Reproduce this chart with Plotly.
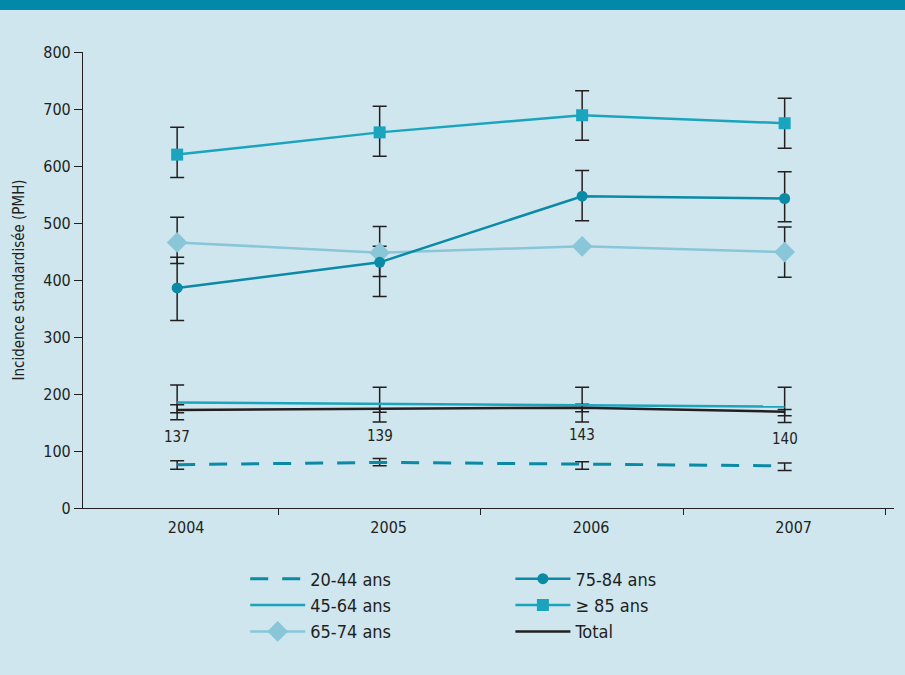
import plotly.graph_objects as go

years = ["2004", "2005", "2006", "2007"]

v_20_44 = [76, 80, 77, 74]
v_20_44_hi = [83, 87, 81, 79]
v_20_44_lo = [68, 74, 68, 66]

v_45_64 = [185, 183, 181, 178]
v_45_64_hi = [216, 212, 212, 212]
v_45_64_lo = [155, 151, 151, 150]

v_65_74 = [466, 448, 459, 449]
v_65_74_hi = [510, 494, None, 493]
v_65_74_lo = [429, 406, None, 405]

v_75_84 = [386, 431, 547, 543]
v_75_84_hi = [440, 459, 592, 590]
v_75_84_lo = [329, 371, 504, 502]

v_85 = [620, 659, 689, 675]
v_85_hi = [668, 705, 732, 719]
v_85_lo = [580, 617, 645, 631]

v_total = [172, 174, 176, 169]
v_total_hi = [181, 182, 182, 173]
v_total_lo = [167, 168, 169, 162]

total_labels = ["137", "139", "143", "140"]

C_DARK = "#0b8aa6"
C_MID = "#1ba4be"
C_LIGHT = "#88c6d8"
C_BLACK = "#231f20"
BG = "#cfe6ee"
FONT = "DejaVu Sans Condensed, Liberation Sans Narrow, sans-serif"

fig = go.Figure()


def err_trace(vals, hi, lo):
    xs, ys, up, dn = [], [], [], []
    for x, v, h, l in zip(years, vals, hi, lo):
        if h is None:
            continue
        xs.append(x)
        ys.append(v)
        up.append(h - v)
        dn.append(v - l)
    return go.Scatter(
        x=xs, y=ys, mode="markers", marker=dict(size=0.1, opacity=0),
        showlegend=False, hoverinfo="skip",
        error_y=dict(type="data", array=up, arrayminus=dn, symmetric=False,
                     color=C_BLACK, thickness=1.5, width=7),
    )


for vals, hi, lo in [
    (v_20_44, v_20_44_hi, v_20_44_lo),
    (v_45_64, v_45_64_hi, v_45_64_lo),
    (v_65_74, v_65_74_hi, v_65_74_lo),
    (v_75_84, v_75_84_hi, v_75_84_lo),
    (v_85, v_85_hi, v_85_lo),
    (v_total, v_total_hi, v_total_lo),
]:
    fig.add_trace(err_trace(vals, hi, lo))

fig.add_trace(go.Scatter(x=years, y=v_20_44, name="20-44 ans", mode="lines",
                         line=dict(color=C_DARK, width=3, dash="18px,14px"),
                         legend="legend"))
fig.add_trace(go.Scatter(x=years, y=v_45_64, name="45-64 ans", mode="lines",
                         line=dict(color=C_MID, width=2.5), legend="legend"))
fig.add_trace(go.Scatter(x=years, y=v_65_74, name="65-74 ans", mode="lines+markers",
                         line=dict(color=C_LIGHT, width=2.5),
                         marker=dict(symbol="diamond", size=16, color=C_LIGHT),
                         legend="legend"))
fig.add_trace(go.Scatter(x=years, y=v_75_84, name="75-84 ans", mode="lines+markers",
                         line=dict(color=C_DARK, width=2.5),
                         marker=dict(symbol="circle", size=11, color=C_DARK),
                         legend="legend2"))
fig.add_trace(go.Scatter(x=years, y=v_85, name="\u2265 85 ans", mode="lines+markers",
                         line=dict(color=C_MID, width=2.5),
                         marker=dict(symbol="square", size=12, color=C_MID),
                         legend="legend2"))
fig.add_trace(go.Scatter(x=years, y=v_total, name="Total", mode="lines",
                         line=dict(color=C_BLACK, width=2.5), legend="legend2"))

for i, (v, t) in enumerate(zip(v_total, total_labels)):
    fig.add_annotation(x=i, y=v, text=t, showarrow=False, yshift=-27,
                       font=dict(size=15, color=C_BLACK, family=FONT))

# top band
fig.add_shape(type="rect", xref="paper", yref="paper", x0=-0.2, x1=1.1,
              y0=1 + 42 / 456, y1=1.2, fillcolor="#0089a8", line_width=0,
              layer="above")

fig.update_layout(
    width=905, height=675,
    paper_bgcolor=BG, plot_bgcolor=BG,
    margin=dict(l=83, r=11, t=52, b=167),
    font=dict(family=FONT, size=15, color=C_BLACK),
    xaxis=dict(type="category", range=[-0.465, 3.54], tickson="boundaries",
               ticks="outside", ticklen=6, tickcolor=C_BLACK, showgrid=False,
               showline=True, linecolor=C_BLACK, linewidth=1.2,
               ticklabelshift=9, ticklabelstandoff=5, zeroline=False,
               tickfont=dict(size=16)),
    yaxis=dict(range=[0, 800], tickvals=list(range(0, 801, 100)),
               ticks="outside", ticklen=8, tickcolor=C_BLACK, showgrid=False,
               showline=True, linecolor=C_BLACK, linewidth=1.2, zeroline=False,
               tickfont=dict(size=16),
               title=dict(text="Incidence standardisée (PMH)", standoff=14,
                          font=dict(size=15))),
    legend=dict(x=0.2, y=-0.115, xanchor="left", yanchor="top",
                bgcolor="rgba(0,0,0,0)", font=dict(size=18), tracegroupgap=0,
                itemwidth=55, traceorder="normal"),
    legend2=dict(x=0.527, y=-0.115, xanchor="left", yanchor="top",
                 bgcolor="rgba(0,0,0,0)", font=dict(size=18), tracegroupgap=0,
                 itemwidth=55, traceorder="normal"),
)

fig.write_html("out.html", config={"displayModeBar": False},
               post_script="document.body.style.margin='0';document.body.style.padding='0';")
